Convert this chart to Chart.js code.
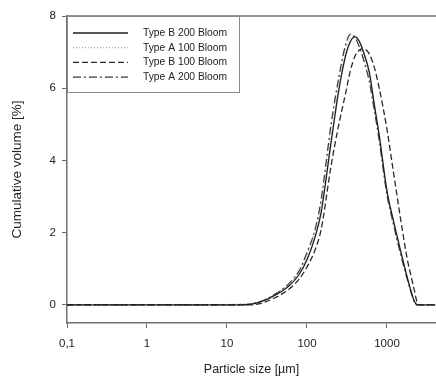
<!DOCTYPE html>
<html>
<head>
<meta charset="utf-8">
<script src="https://cdn.jsdelivr.net/npm/chart.js@4"></script>
<style>
  body { margin: 0; background: #fff; }
  #wrap { width: 436px; height: 380px; }
</style>
</head>
<body>
<div id="wrap"><canvas id="chart" width="436" height="380"></canvas></div>
<script>
// particle sizes in um
const sizes = [0.1, 1, 5, 8, 10, 15, 20, 25, 30, 40, 50, 60, 80, 100, 125, 150, 200, 250, 300, 350,
  400, 450, 500, 600, 700, 800, 1000, 1200, 1500, 1800, 2000, 2200, 2400, 2600, 4000];

const typeB200 = [0, 0, 0, 0, 0, 0, 0.02, 0.07, 0.13, 0.27, 0.4, 0.53, 0.85, 1.25, 1.85, 2.55, 4.5, 5.95, 6.85, 7.3,
  7.42, 7.3, 7.05, 6.45, 5.5, 4.7, 3.15, 2.35, 1.45, 0.75, 0.38, 0.1, 0, 0, 0];
const typeA100 = [null, null, null, 0, 0.01, 0.03, 0.05, 0.09, 0.15, 0.3, 0.44, 0.58, 0.92, 1.35, 2.0, 2.7, 4.65, 6.05, 6.95, 7.38,
  7.45, 7.3, 7.0, 6.35, 5.45, 4.65, 3.1, 2.3, 1.4, 0.72, 0.36, 0.1, 0, 0, 0];
const typeB100 = [0, 0, 0, 0, 0, 0, 0, 0.03, 0.08, 0.2, 0.32, 0.44, 0.72, 1.05, 1.5, 2.08, 3.85, 5.0, 5.8, 6.5,
  6.9, 7.05, 7.1, 6.95, 6.55, 6.0, 4.86, 3.7, 2.3, 1.25, 0.8, 0.4, 0.05, 0, 0];
const typeA200 = [0, 0, 0, 0, 0, 0, 0.03, 0.08, 0.15, 0.3, 0.45, 0.6, 0.95, 1.45, 2.05, 2.9, 5.0, 6.3, 7.15, 7.5,
  7.4, 7.15, 6.85, 6.2, 5.35, 4.55, 3.05, 2.25, 1.35, 0.7, 0.35, 0.08, 0, 0, 0];

const seriesNames = ['Type B 200 Bloom', 'Type A 100 Bloom', 'Type B 100 Bloom', 'Type A 200 Bloom'];
const xTicks = [0.1, 1, 10, 100, 1000];
const yTicks = [0, 2, 4, 6, 8];

const FONT = 'Arial, "Liberation Sans", sans-serif';
const AXIS = '#707070';

const toPoints = vals => sizes.map((s, i) => ({ x: s, y: vals[i] }));

const makeSet = (label, vals, color, dash, width) => ({
  label,
  data: toPoints(vals),
  borderColor: color,
  borderDash: dash,
  borderWidth: width,
  pointRadius: 0,
  fill: false,
  cubicInterpolationMode: 'monotone',
  spanGaps: false
});

// legend box in the top left corner + top frame line
const frameLegend = {
  id: 'frameLegend',
  afterDraw(chart) {
    const { ctx, chartArea } = chart;
    const { left, top, right } = chartArea;
    ctx.save();
    ctx.strokeStyle = AXIS;
    ctx.lineWidth = 1.5;
    ctx.beginPath();
    ctx.moveTo(left - 1, top);
    ctx.lineTo(right, top);
    ctx.stroke();

    ctx.lineWidth = 1;
    ctx.strokeStyle = '#8a8a8a';
    ctx.strokeRect(left + 0.5, top + 0.5, 172, 76);

    chart.data.datasets.forEach((ds, i) => {
      const y = top + 17 + i * 14.7;
      ctx.strokeStyle = ds.borderColor;
      ctx.lineWidth = ds.borderWidth;
      ctx.setLineDash(ds.borderDash || []);
      ctx.beginPath();
      ctx.moveTo(left + 6, y);
      ctx.lineTo(left + 61, y);
      ctx.stroke();
      ctx.setLineDash([]);
      ctx.fillStyle = '#222';
      ctx.font = '10.3px ' + FONT;
      ctx.textBaseline = 'middle';
      ctx.fillText(ds.label, left + 76, y);
    });
    ctx.restore();
  }
};

new Chart(document.getElementById('chart'), {
  type: 'line',
  data: {
    datasets: [
      makeSet(seriesNames[0], typeB200, '#1e1e1e', [], 1.3),
      makeSet(seriesNames[1], typeA100, '#a8a8a8', [1, 2], 1.2),
      makeSet(seriesNames[2], typeB100, '#2a2a2a', [6, 3], 1.3),
      makeSet(seriesNames[3], typeA200, '#3a3a3a', [8, 3, 2, 3], 1.3)
    ]
  },
  options: {
    responsive: false,
    animation: false,
    layout: { padding: { top: 16, right: 0, left: 0, bottom: 0 } },
    plugins: { legend: { display: false }, tooltip: { enabled: false } },
    scales: {
      x: {
        type: 'logarithmic',
        min: 0.1,
        max: 4100,
        afterBuildTicks: s => { s.ticks = xTicks.map(v => ({ value: v })); },
        afterFit: s => { s.height = 57; },
        border: { color: AXIS, width: 1.5 },
        grid: { display: true, drawOnChartArea: false, drawTicks: true, tickLength: 5, color: AXIS, lineWidth: 1 },
        ticks: {
          color: '#222',
          font: { family: FONT, size: 11.5 },
          padding: 9,
          maxRotation: 0,
          autoSkip: false,
          callback: v => (v === 0.1 ? '0,1' : String(v))
        },
        title: {
          display: true,
          text: 'Particle size [µm]',
          color: '#222',
          font: { family: FONT, size: 12.5 },
          padding: { top: 0, bottom: 2.5 }
        }
      },
      y: {
        min: -0.5,
        max: 8,
        afterBuildTicks: s => { s.ticks = yTicks.map(v => ({ value: v })); },
        afterFit: s => { s.width = 67; },
        border: { color: AXIS, width: 1.5 },
        grid: { display: true, drawOnChartArea: false, drawTicks: true, tickLength: 5, color: AXIS, lineWidth: 1 },
        ticks: {
          color: '#222',
          font: { family: FONT, size: 11.5 },
          padding: 6
        },
        title: {
          display: true,
          text: 'Cumulative volume [%]',
          color: '#222',
          font: { family: FONT, size: 13.5 },
          padding: { top: 9, bottom: 0 }
        }
      }
    }
  },
  plugins: [frameLegend]
});
</script>
</body>
</html>
